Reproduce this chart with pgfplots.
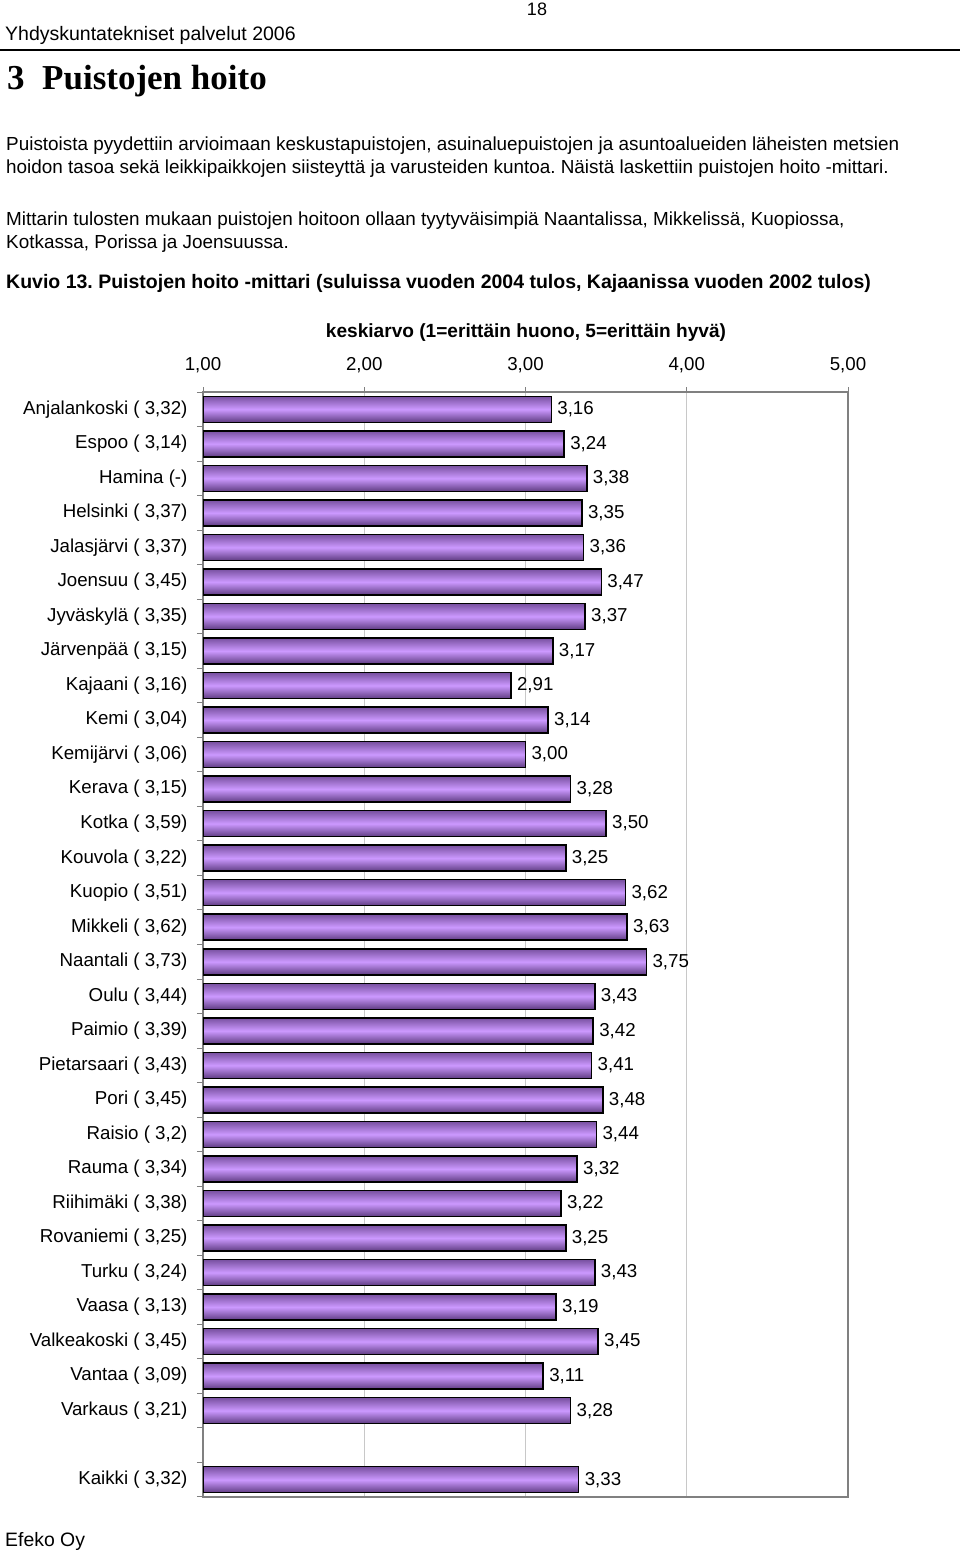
\documentclass[border=0pt]{standalone}
\usepackage{pgfplots}
\pgfplotsset{compat=1.18}
\usepackage{fontspec}
\setmainfont{Liberation Sans}
\newfontfamily\serifbf{Liberation Serif}
\definecolor{bartop}{RGB}{120,80,160}
\definecolor{barmid}{RGB}{204,153,255}
\definecolor{barbot}{RGB}{95,60,130}
\definecolor{axgray}{RGB}{128,128,128}
\definecolor{gridgray}{RGB}{200,200,200}
\newcommand\fs[1]{\fontsize{#1}{#1}\selectfont}
\pgfplotsset{barsty/.style={draw=black, line width=1.5pt, top color=bartop, bottom color=barbot, middle color=barmid, bar shift=0pt}}
\newcommand\B[2]{\addplot[barsty] coordinates {(#1,#2)};}
\frenchspacing
\begin{document}
\begin{tikzpicture}
\useasboundingbox[fill=white] (0pt,0pt) rectangle (960pt,1553pt);
% header
\node[inner sep=0] at (537pt,1544pt) {\fs{18}18};
\node[inner sep=0,anchor=west] at (5pt,1518pt) {\fs{19.5}Yhdyskuntatekniset palvelut 2006};
\draw[line width=2pt] (0pt,1503pt) -- (960pt,1503pt);
\node[inner sep=0,anchor=base west] at (7pt,1463pt) {\fs{35}\serifbf\bfseries 3};
\node[inner sep=0,anchor=base west] at (42pt,1463pt) {\fs{35}\serifbf\bfseries Puistojen hoito};
% body
\node[inner sep=0,anchor=west] at (6pt,1407pt) {\fs{18.9}Puistoista pyydettiin arvioimaan keskustapuistojen, asuinaluepuistojen ja asuntoalueiden läheisten metsien};
\node[inner sep=0,anchor=west] at (6pt,1384pt) {\fs{18.9}hoidon tasoa sekä leikkipaikkojen siisteyttä ja varusteiden kuntoa. Näistä laskettiin puistojen hoito -mittari.};
\node[inner sep=0,anchor=west] at (6pt,1332pt) {\fs{18.9}Mittarin tulosten mukaan puistojen hoitoon ollaan tyytyväisimpiä Naantalissa, Mikkelissä, Kuopiossa,};
\node[inner sep=0,anchor=west] at (6pt,1309pt) {\fs{18.9}Kotkassa, Porissa ja Joensuussa.};
\node[inner sep=0,anchor=west] at (6pt,1270pt) {\fs{19.5}\bfseries Kuvio 13. Puistojen hoito -mittari (suluissa vuoden 2004 tulos, Kajaanissa vuoden 2002 tulos)};
\node[inner sep=0] at (526pt,1220pt) {\fs{19.1}\bfseries keskiarvo (1=erittäin huono, 5=erittäin hyvä)};
\node[inner sep=0,anchor=west] at (5pt,12pt) {\fs{19.4}Efeko Oy};
\begin{axis}[
  at={(203pt,56pt)}, anchor=south west,
  scale only axis, width=645pt, height=1105pt,
  xbar, bar width=26pt,
  xmin=1, xmax=5, ymin=-0.5, ymax=31.5,
  axis line style={draw=axgray, line width=1.5pt},
  tick align=outside,
  xtick={1,2,3,4,5},
  xticklabels={{1,00},{2,00},{3,00},{4,00},{5,00}},
  xtick pos=right, xticklabel pos=right,
  major x tick style={draw=axgray, line width=1pt},
  major tick length=5pt,
  xticklabel style={font=\fs{18.7}, yshift=11pt},
  xmajorgrids, major x grid style={draw=gridgray, line width=0.8pt},
  ytick={0,2,3,4,5,6,7,8,9,10,11,12,13,14,15,16,17,18,19,20,21,22,23,24,25,26,27,28,29,30,31},
  yticklabels={{Kaikki ( 3,32)},{Varkaus ( 3,21)},{Vantaa ( 3,09)},{Valkeakoski ( 3,45)},{Vaasa ( 3,13)},{Turku ( 3,24)},{Rovaniemi ( 3,25)},{Riihimäki ( 3,38)},{Rauma ( 3,34)},{Raisio ( 3,2)},{Pori ( 3,45)},{Pietarsaari ( 3,43)},{Paimio ( 3,39)},{Oulu ( 3,44)},{Naantali ( 3,73)},{Mikkeli ( 3,62)},{Kuopio ( 3,51)},{Kouvola ( 3,22)},{Kotka ( 3,59)},{Kerava ( 3,15)},{Kemijärvi ( 3,06)},{Kemi ( 3,04)},{Kajaani ( 3,16)},{Järvenpää ( 3,15)},{Jyväskylä ( 3,35)},{Joensuu ( 3,45)},{Jalasjärvi ( 3,37)},{Helsinki ( 3,37)},{Hamina (-)},{Espoo ( 3,14)},{Anjalankoski ( 3,32)}},
  ytick pos=left,
  major y tick style={draw=none},
  minor ytick={-0.5,0.5,...,31.5},
  minor y tick style={draw=axgray, line width=1pt},
  minor tick length=6pt,
  yticklabel style={font=\fs{18.7}, xshift=-7pt},
  point meta=x,
  nodes near coords={\pgfmathprintnumber[fixed,fixed zerofill,precision=2,use comma,assume math mode=true]{\pgfplotspointmeta}},
  every node near coord/.append style={font=\fs{18.7}, black, xshift=2pt},
]
\B{3.16}{31} \B{3.24}{30} \B{3.38}{29} \B{3.35}{28} \B{3.36}{27}
\B{3.47}{26} \B{3.37}{25} \B{3.17}{24} \B{2.91}{23} \B{3.14}{22}
\B{3.00}{21} \B{3.28}{20} \B{3.50}{19} \B{3.25}{18} \B{3.62}{17}
\B{3.63}{16} \B{3.75}{15} \B{3.43}{14} \B{3.42}{13} \B{3.41}{12}
\B{3.48}{11} \B{3.44}{10} \B{3.32}{9} \B{3.22}{8} \B{3.25}{7}
\B{3.43}{6} \B{3.19}{5} \B{3.45}{4} \B{3.11}{3} \B{3.28}{2}
\B{3.33}{0}
\end{axis}
\end{tikzpicture}
\end{document}
